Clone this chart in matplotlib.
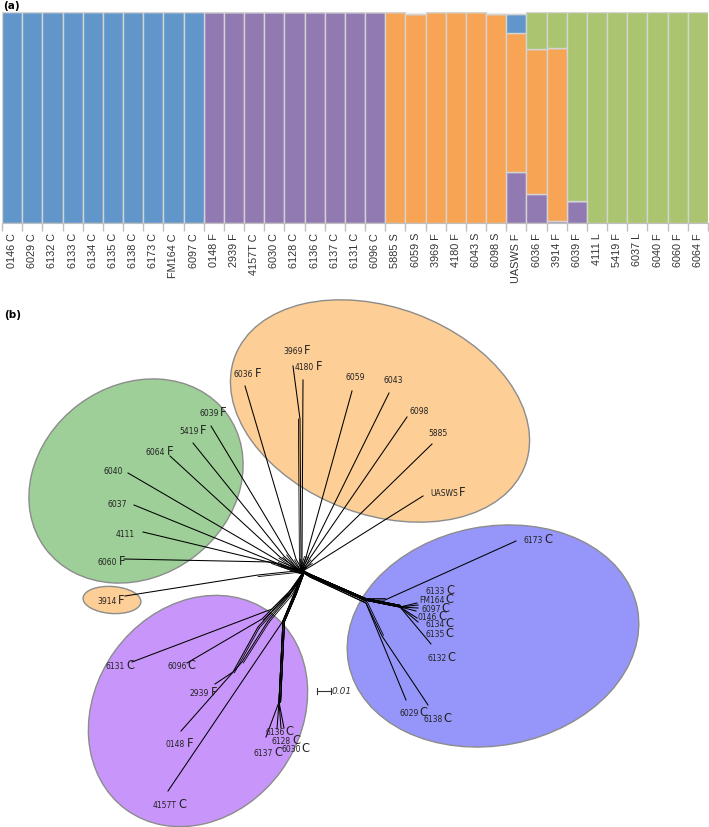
import matplotlib
matplotlib.use("Agg")
import matplotlib.pyplot as plt
import numpy as np
from matplotlib.patches import Ellipse

# ---------------- (a) STRUCTURE ancestry proportions ----------------
samples = ['0146 C', '6029 C', '6132 C', '6133 C', '6134 C', '6135 C', '6138 C', '6173 C',
           'FM164 C', '6097 C',
           '0148 F', '2939 F', '4157T C', '6030 C', '6128 C', '6136 C', '6137 C', '6131 C', '6096 C',
           '5885 S', '6059 S', '3969 F', '4180 F', '6043 S', '6098 S',
           'UASWS F', '6036 F', '3914 F', '6039 F',
           '4111 L', '5419 F', '6037 L', '6040 F', '6060 F', '6064 F']
q_purple = [0, 0, 0, 0, 0, 0, 0, 0, 0, 0,
            1, 1, 1, 1, 1, 1, 1, 1, 1,
            0, 0, 0, 0, 0, 0,
            0.24, 0.137, 0.01, 0.105,
            0, 0, 0, 0, 0, 0]
q_orange = [0, 0, 0, 0, 0, 0, 0, 0, 0, 0,
            0, 0, 0, 0, 0, 0, 0, 0, 0,
            1, 0.992, 1, 1, 1, 0.992,
            0.66, 0.69, 0.82, 0,
            0, 0, 0, 0, 0, 0]
q_blue = [1, 1, 1, 1, 1, 1, 1, 1, 1, 1,
          0, 0, 0, 0, 0, 0, 0, 0, 0,
          0, 0, 0, 0, 0, 0,
          0.09, 0, 0, 0,
          0, 0, 0, 0, 0, 0]
q_green = [0, 0, 0, 0, 0, 0, 0, 0, 0, 0,
           0, 0, 0, 0, 0, 0, 0, 0, 0,
           0, 0, 0, 0, 0, 0,
           0, 0.173, 0.17, 0.895,
           1, 1, 1, 1, 1, 1]

# ---------------- (b) NeighborNet layout (pixel space of the panel) ----------------
net_names = ['6039', '5419', '6064', '6040', '6037', '4111', '6060', '3914',
             '6036', '3969', '4180', '6059', '6043', '6098', '5885', 'UASWS',
             '6131', '6096', '2939', '0148', '4157T', '6136', '6128', '6137', '6030',
             '6173', '6133', 'FM164', '6097', '0146', '6134', '6135', '6132', '6029', '6138']
net_tag = ['F', 'F', 'F', '', '', '', 'F', 'F',
           'F', 'F', 'F', '', '', '', '', 'F',
           'C', 'C', 'F', 'F', 'C', 'C', 'C', 'C', 'C',
           'C', 'C', 'C', 'C', 'C', 'C', 'C', 'C', 'C', 'C']
label_x = [199, 179, 146, 103, 108, 116, 98, 97,
           234, 283, 295, 345, 384, 410, 428, 430,
           106, 167, 190, 166, 153, 265, 272, 254, 281,
           524, 426, 419, 421, 418, 425, 425, 427, 399, 423]
label_y = [413, 431, 452, 471, 504, 534, 562, 601,
           374, 351, 367, 377, 380, 411, 433, 493,
           666, 666, 693, 744, 805, 732, 741, 753, 749,
           540, 591, 600, 609, 617, 624, 634, 658, 713, 719]
# branch polylines, from the tip inwards to the network centre
branches = [
    [(211, 427), (288, 555), (297, 567), (302, 573)],
    [(193, 444), (284, 557), (296, 568), (302, 573)],
    [(170, 457), (280, 558), (295, 568), (302, 573)],
    [(128, 474), (279, 562), (295, 569), (302, 573)],
    [(134, 506), (279, 565), (295, 570), (302, 573)],
    [(143, 533), (281, 566), (295, 571), (302, 573)],
    [(124, 560), (272, 563), (295, 571), (302, 573)],
    [(125, 597), (258, 576), (296, 572), (302, 573)],
    [(245, 387), (296, 560), (300, 567), (302, 573)],
    [(293, 367), (300, 420), (301, 560), (302, 573)],
    [(303, 381), (302, 560), (302, 573)],
    [(352, 392), (306, 558), (303, 567), (302, 573)],
    [(389, 394), (308, 558), (304, 567), (302, 573)],
    [(407, 418), (310, 559), (305, 568), (302, 573)],
    [(432, 445), (312, 562), (306, 569), (302, 573)],
    [(423, 497), (313, 566), (306, 570), (302, 573)],
    [(132, 663), (272, 610), (292, 590), (302, 575)],
    [(187, 664), (262, 620), (290, 592), (302, 575)],
    [(215, 685), (233, 673), (258, 628), (287, 596), (302, 575)],
    [(181, 732), (242, 663), (268, 622), (290, 596), (302, 575)],
    [(168, 792), (283, 622), (293, 597), (302, 575)],
    [(266, 738), (279, 703), (283, 622), (295, 594), (302, 575)],
    [(277, 730), (279, 703), (283, 622), (295, 594), (302, 575)],
    [(281, 729), (279, 703), (283, 622), (295, 594), (302, 575)],
    [(284, 729), (279, 703), (283, 622), (295, 594), (302, 575)],
    [(516, 542), (385, 601), (365, 601), (310, 577), (302, 573)],
    [(417, 604), (400, 608), (365, 601), (310, 577), (302, 573)],
    [(418, 606), (400, 608), (365, 601), (310, 577), (302, 573)],
    [(418, 609), (400, 608), (365, 601), (310, 577), (302, 573)],
    [(416, 612), (400, 608), (365, 601), (310, 577), (302, 573)],
    [(417, 619), (400, 608), (365, 601), (310, 577), (302, 573)],
    [(418, 623), (400, 608), (365, 601), (310, 577), (302, 573)],
    [(431, 645), (400, 608), (365, 601), (310, 577), (302, 573)],
    [(406, 701), (366, 604), (310, 578), (302, 573)],
    [(428, 706), (382, 637), (366, 604), (310, 578), (302, 573)],
]
# cluster hulls: centre x, centre y, width, height, angle, colour
hull_cx = [136, 380, 493, 198, 112]
hull_cy = [482, 412, 637, 712, 601]
hull_w = [226, 310, 294, 244, 58]
hull_h = [191, 207, 219, 205, 27]
hull_ang = [-36.6, 20.6, -10.9, -54, 4]
hull_col = ['#9ecf98', '#fdce96', '#9696fa', '#c896fa', '#fdce96']

W, H = 709, 828
fig = plt.figure(figsize=(W / 100, H / 100), dpi=100)

# ---- panel a ----
ax = fig.add_axes([2 / W, 1 - 224 / H, 706 / W, 211 / H])
x = np.arange(len(samples))
bottom = np.zeros(len(samples))
for vals, col in [(q_purple, '#9179b2'), (q_orange, '#f7a455'),
                  (q_blue, '#6096c9'), (q_green, '#aac46f')]:
    vals = np.array(vals, dtype=float)
    ax.bar(x, vals, bottom=bottom, width=1.0, color=col, edgecolor='#d4d4d4', linewidth=1.0)
    bottom += vals
ax.set_xlim(-0.5, len(samples) - 0.5)
ax.set_ylim(0, 1)
ax.set_yticks([])
ax.set_xticks(x)
ax.set_xticklabels(samples, rotation=90, fontsize=7.8, family='Liberation Sans', color='#333333')
ax.set_xticks(np.arange(-0.5, len(samples), 1.0), minor=True)
ax.tick_params(axis='x', which='major', length=0, pad=6.5)
ax.tick_params(axis='x', which='minor', length=6, color='#bfbfbf', width=1)
for s in ['top', 'left', 'right']:
    ax.spines[s].set_visible(False)
ax.spines['bottom'].set_color('#bfbfbf')
fig.text(3 / W, 1 - 6 / H, '(a)', fontsize=7.5, fontweight='bold', va='center', ha='left')

# ---- panel b ----
axb = fig.add_axes([0, 0, 1, 548 / H])
axb.set_xlim(0, W)
axb.set_ylim(H, 280)
axb.axis('off')
for cx, cy, w, h, a, c in zip(hull_cx, hull_cy, hull_w, hull_h, hull_ang, hull_col):
    axb.add_patch(Ellipse((cx, cy), w, h, angle=a, facecolor=c, edgecolor='#8c8c8c',
                          linewidth=1.0, zorder=1))

for br in branches:
    pts = np.array(br, dtype=float)
    axb.plot(pts[:, 0], pts[:, 1], color='black', lw=0.75, zorder=3)
    # splits near the centre drawn as a parallel edge
    for i in range(1, len(pts) - 1):
        p, q = pts[i], pts[i + 1]
        d = q - p
        n = np.array([-d[1], d[0]]) / (np.hypot(*d) + 1e-9)
        off = 1.6
        axb.plot([p[0] + n[0] * off, q[0] + n[0] * off],
                 [p[1] + n[1] * off, q[1] + n[1] * off], color='black', lw=0.6, zorder=3)

renderer = fig.canvas.get_renderer()
for name, tag, lx, ly in zip(net_names, net_tag, label_x, label_y):
    t = axb.text(lx, ly + 2.7, name, fontsize=5.5, ha='left', va='baseline', color='#222222', zorder=4)
    if tag:
        wpx = t.get_window_extent(renderer).width
        axb.text(lx + wpx + 1.2, ly + 3.2, tag, fontsize=8.3, ha='left', va='baseline',
                 color='#222222', zorder=4)

# scale bar
axb.plot([317, 331], [692, 692], color='#333333', lw=0.8)
axb.plot([317, 317], [689, 695], color='#333333', lw=0.8)
axb.plot([331, 331], [689, 695], color='#333333', lw=0.8)
axb.text(332, 692, '0.01', fontsize=6.5, style='italic', ha='left', va='center', color='#333333')
fig.text(4 / W, 1 - 315 / H, '(b)', fontsize=7.5, fontweight='bold', va='center', ha='left')

fig.savefig('out.png', dpi=100)
